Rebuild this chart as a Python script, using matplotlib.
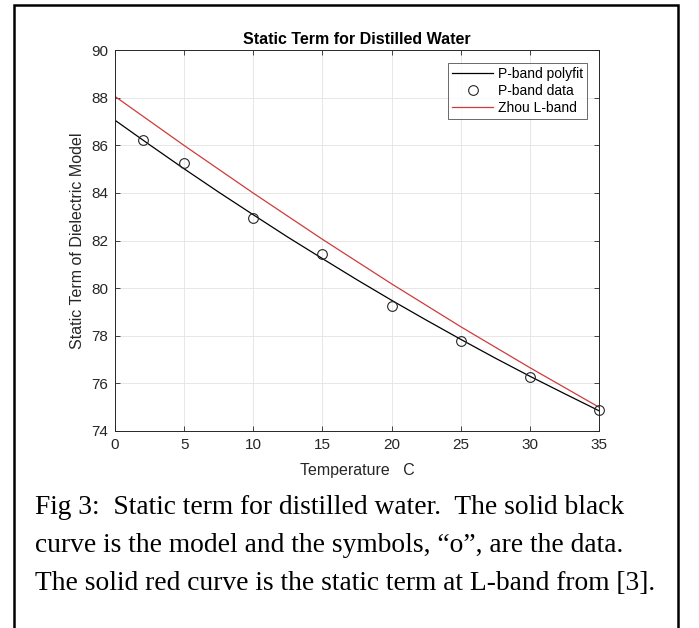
import numpy as np
import matplotlib.pyplot as plt
from matplotlib.patches import Rectangle

# Data
temp_data = [2, 5, 10, 15, 20, 25, 30, 35]
eps_data = [86.22, 85.24, 82.93, 81.45, 79.25, 77.77, 76.25, 74.87]

temp_fit = [0, 2.5, 5, 7.5, 10, 12.5, 15, 17.5, 20, 22.5, 25, 27.5, 30, 32.5, 35]
eps_fit = [87.05, 86.02, 85.01, 84.03, 83.08, 82.14, 81.24, 80.35, 79.49,
           78.66, 77.85, 77.06, 76.30, 75.57, 74.85]

temp_zhou = [0, 5, 10, 15, 20, 25, 30, 35]
eps_zhou = [88.05, 85.99, 83.99, 82.05, 80.18, 78.38, 76.66, 75.00]

caption = [
    "Fig 3:  Static term for distilled water.  The solid black",
    "curve is the model and the symbols, \u201co\u201d, are the data.",
    "The solid red curve is the static term at L-band from [3].",
]

plt.rcParams['font.family'] = ['Liberation Sans', 'DejaVu Sans']
dark = '#262626'

fig = plt.figure(figsize=(6.99, 6.28), dpi=100)
ax = fig.add_axes([115 / 699, 1 - 431 / 628, 484 / 699, 381 / 628])

ax.plot(temp_fit, eps_fit, color='black', lw=0.9, label='P-band polyfit')
ax.plot(temp_data, eps_data, 'o', ms=7, mfc='none', mec=dark, mew=0.8,
        label='P-band data', clip_on=False, zorder=3)
ax.plot(temp_zhou, eps_zhou, color='#d03a3a', lw=0.9, label='Zhou L-band')

ax.set_xlim(0, 35)
ax.set_ylim(74, 90)
ax.set_xticks(np.arange(0, 36, 5))
ax.set_yticks(np.arange(74, 91, 2))
ax.grid(True, color='#e3e3e3', lw=0.6)
ax.set_axisbelow(True)
ax.tick_params(direction='in', top=True, right=True, length=3.5, width=0.6,
               colors=dark, labelsize=11, labelcolor=dark, pad=5)
for s in ax.spines.values():
    s.set_color(dark)
    s.set_linewidth(0.7)

ax.set_title('Static Term for Distilled Water', fontsize=11.5, fontweight='bold',
             color='black', pad=4)
ax.set_xlabel('Temperature   C', fontsize=11.5, color=dark, labelpad=8)
ax.set_ylabel('Static Term of Dielectric Model', fontsize=11.5, color=dark,
              labelpad=4)

leg = ax.legend(loc='upper right', fontsize=10, frameon=True, fancybox=False,
                edgecolor=dark, borderpad=0.3, handlelength=3.0,
                handletextpad=0.3, labelspacing=0.2, borderaxespad=0,
                bbox_to_anchor=(0.975, 0.966))
leg.get_frame().set_linewidth(0.6)

# outer frame of the figure panel
fig.patches.append(Rectangle((14 / 699, -0.05), 664 / 699, 1.05 - 5 / 628,
                             transform=fig.transFigure, fill=False,
                             edgecolor='black', lw=1.8, clip_on=False))

for i, line in enumerate(caption):
    fig.text(35 / 699, 1 - (507 + 38 * i) / 628, line, fontsize=19.8,
             family='Liberation Serif', va='center', ha='left')

fig.savefig('out.png', dpi=100)
